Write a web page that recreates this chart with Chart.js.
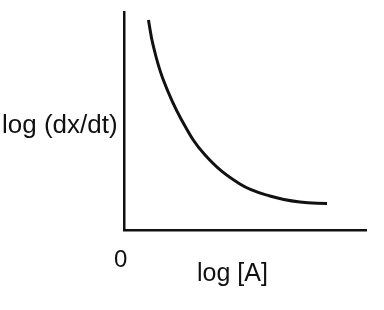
<!DOCTYPE html>
<html>
<head>
<meta charset="utf-8">
<script src="https://cdn.jsdelivr.net/npm/chart.js@4.4.1/dist/chart.umd.min.js"></script>
<style>
  html, body { margin: 0; padding: 0; background: #ffffff; }
  #wrap { width: 384px; height: 310px; }
</style>
</head>
<body>
<div id="wrap"><canvas id="c" width="384" height="310"></canvas></div>
<script>
// Curve values (arbitrary log units)
const logA = [1.01, 1.20, 1.61, 2.38, 3.35, 4.79, 6.03, 7.27, 8.39];
const logRate = [9.63, 8.49, 6.93, 5.05, 3.44, 2.11, 1.56, 1.28, 1.22];

// Text labels
const yAxisLabel = ['log (dx/dt)'];
const xAxisLabel = ['log [A]'];
const originLabel = ['0'];

const points = logA.map((x, i) => ({ x: x, y: logRate[i] }));

const labelPlugin = {
  id: 'labels',
  afterDraw(chart) {
    const ctx = chart.ctx;
    const area = chart.chartArea;
    ctx.save();
    ctx.fillStyle = '#111111';
    ctx.textBaseline = 'alphabetic';
    ctx.textAlign = 'left';
    ctx.font = '26px "Liberation Sans", Arial, sans-serif';
    ctx.fillText(yAxisLabel[0], area.left - 122, area.top + 121);
    ctx.font = '25px "Liberation Sans", Arial, sans-serif';
    ctx.fillText(xAxisLabel[0], area.left + 73, area.bottom + 51);
    ctx.font = '24px "Liberation Sans", Arial, sans-serif';
    ctx.fillText(originLabel[0], area.left - 10, area.bottom + 37);
    ctx.restore();
  }
};

new Chart(document.getElementById('c'), {
  type: 'scatter',
  data: {
    datasets: [{
      data: points,
      showLine: true,
      borderColor: '#111111',
      borderWidth: 3,
      pointRadius: 0,
      pointHoverRadius: 0,
      tension: 0.4,
      fill: false
    }]
  },
  options: {
    responsive: false,
    devicePixelRatio: 1,
    animation: false,
    events: [],
    layout: { padding: { left: 124, right: 18, top: 12, bottom: 80 } },
    plugins: { legend: { display: false }, tooltip: { enabled: false } },
    scales: {
      x: {
        type: 'linear', min: 0, max: 10,
        ticks: { display: false },
        grid: { display: false, drawTicks: false },
        border: { display: true, color: '#111111', width: 2.5 }
      },
      y: {
        type: 'linear', min: 0, max: 10,
        ticks: { display: false },
        grid: { display: false, drawTicks: false },
        border: { display: true, color: '#111111', width: 2.5 }
      }
    }
  },
  plugins: [labelPlugin]
});
</script>
</body>
</html>
